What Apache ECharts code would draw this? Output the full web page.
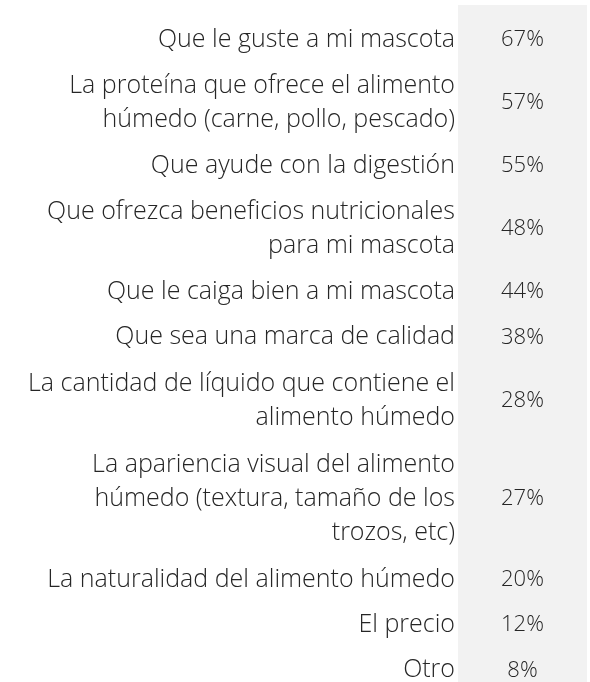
<!DOCTYPE html>
<html>
<head>
<meta charset="utf-8">
<script src="https://cdn.jsdelivr.net/npm/echarts@6/dist/echarts.min.js"></script>
<style>
    html, body { margin: 0; padding: 0; background: #fff; }
    #chart { width: 590px; height: 682px; }
</style>
</head>
<body>
<div id="chart"></div>
<script>
    var categories = [
        'Que le guste a mi mascota',
        'La proteína que ofrece el alimento\nhúmedo (carne, pollo, pescado)',
        'Que ayude con la digestión',
        'Que ofrezca beneficios nutricionales\npara mi mascota',
        'Que le caiga bien a mi mascota',
        'Que sea una marca de calidad',
        'La cantidad de líquido que contiene el\nalimento húmedo',
        'La apariencia visual del alimento\nhúmedo (textura, tamaño de los\ntrozos, etc)',
        'La naturalidad del alimento húmedo',
        'El precio',
        'Otro'
    ];
    var values = [67, 57, 55, 48, 44, 38, 28, 27, 20, 12, 8];

    // each row is as tall as its label (in lines) plus a little padding
    var rowPad = 0.275;
    var centers = [];
    var total = 0;
    categories.forEach(function (c) {
        var h = c.split('\n').length + rowPad;
        centers.push(total + h / 2);
        total += h;
    });

    function labelFor(v) {
        for (var i = 0; i < centers.length; i++) {
            if (Math.abs(centers[i] - v) < 1e-6) return categories[i];
        }
        return '';
    }

    var font = 'Open Sans';
    var textColor = '#262626';

    var chart = echarts.init(document.getElementById('chart'));
    var option = {
        animation: false,
        grid: {
            left: 458,
            right: 3,
            top: 5,
            height: 688,
            outerBoundsMode: 'none',
            show: true,
            backgroundColor: '#f2f2f2',
            borderWidth: 0
        },
        xAxis: {
            type: 'category',
            data: ['%'],
            show: false
        },
        yAxis: {
            type: 'value',
            inverse: true,
            min: -0.345,
            max: total,
            splitLine: {show: false},
            axisLine: {show: false},
            axisTick: {show: false},
            axisLabel: {
                customValues: centers,
                formatter: labelFor,
                align: 'right',
                margin: 3,
                fontFamily: font,
                fontWeight: 300,
                fontSize: 25,
                lineHeight: 34,
                color: textColor
            }
        },
        series: [{
            type: 'scatter',
            symbolSize: 0,
            silent: true,
            itemStyle: {opacity: 1},
            data: values.map(function (v, i) {
                return [0, centers[i], v];
            }),
            label: {
                show: true,
                position: 'inside',
                formatter: function (p) {
                    return p.value[2] + '%';
                },
                fontFamily: font,
                fontWeight: 300,
                fontSize: 22,
                color: textColor
            }
        }]
    };
    chart.setOption(option);
</script>
</body>
</html>
